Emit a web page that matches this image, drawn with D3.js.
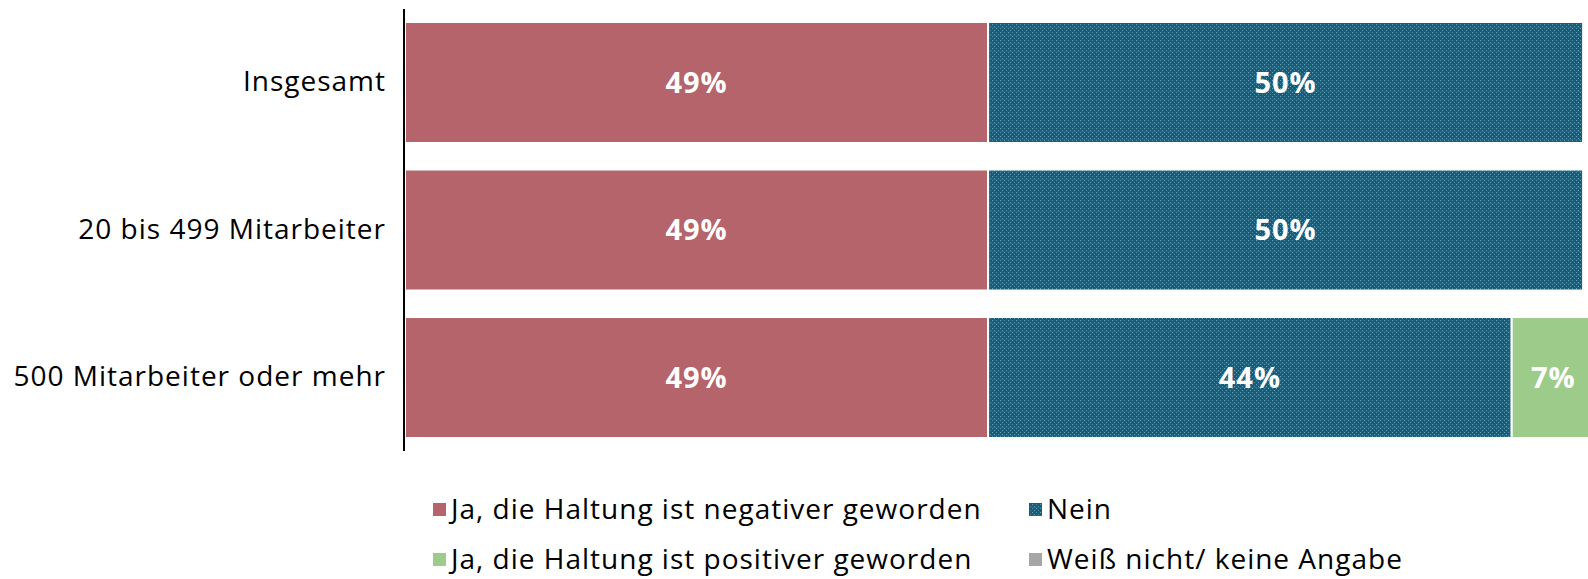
<!DOCTYPE html>
<html><head><meta charset="utf-8">
<script src="https://cdn.jsdelivr.net/npm/d3@7"></script>
<style>body{margin:0;background:#fff}svg{display:block}text{font-family:"Open Sans",sans-serif}</style>
</head><body><svg id="c" width="1588" height="579"></svg>
<script>
const categories = ["Insgesamt", "20 bis 499 Mitarbeiter", "500 Mitarbeiter oder mehr"];
const seriesNames = ["Ja, die Haltung ist negativer geworden", "Nein", "Ja, die Haltung ist positiver geworden", "Weiß nicht/ keine Angabe"];
const negativ = [49, 49, 49];
const nein = [50, 50, 44];
const positiv = [0, 0, 7];
const weissNicht = [0, 0, 0];
const colors = ["#b5646b", "url(#nein)", "#9dcb8a", "#a6a6a6"];

const svg = d3.select("#c");
const defs = svg.append("defs");
const pat = defs.append("pattern").attr("id","nein").attr("patternUnits","userSpaceOnUse").attr("width",8).attr("height",8);
pat.append("rect").attr("width",8).attr("height",8).attr("fill","#175c78");
[[0,0],[4,0],[2,2],[0,4],[4,4],[6,6],[2,6],[6,2]].forEach(([x,y],i)=>{
  pat.append("rect").attr("x",x).attr("y",y).attr("width",1).attr("height",1).attr("fill", i%2? "#4d8ea6":"#6fa6bb");
});
pat.append("rect").attr("x",0).attr("y",3).attr("width",8).attr("height",1).attr("fill","#2a7090").attr("opacity",0.6);

const x = d3.scaleLinear().domain([0,100]).range([405, 1595]);
const y = d3.scaleBand().domain(categories).range([22, 438]).paddingInner(0.18).paddingOuter(0);

const data = [negativ, nein, positiv, weissNicht];
const stacked = d3.stack().keys([0,1,2,3]).value((d,k)=>data[k][d])(categories.map((c,i)=>i));

stacked.forEach((layer,k)=>{
  const g = svg.append("g");
  layer.forEach((seg,i)=>{
    if (seg[1]-seg[0] <= 0) return;
    g.append("rect").attr("x", x(seg[0])).attr("y", y(categories[i]))
      .attr("width", x(seg[1])-x(seg[0])).attr("height", y.bandwidth())
      .attr("fill", colors[k]).attr("stroke","#fff").attr("stroke-width",2);
    g.append("text").attr("x", (x(seg[0])+x(seg[1]))/2)
      .attr("y", y(categories[i]) + y.bandwidth()/2).attr("dy","0.36em")
      .attr("text-anchor","middle").attr("fill","#fff").attr("font-weight","bold").attr("font-size",29)
      .attr("letter-spacing",1)
      .text((seg[1]-seg[0])+"%");
  });
});

const yAxis = svg.append("g").attr("transform","translate(400,0)").call(d3.axisLeft(y).tickSize(0).tickPadding(14));
yAxis.select(".domain").remove();
yAxis.selectAll("text").attr("font-size",28).attr("fill","#000").attr("letter-spacing",1).style("font-family","'Open Sans',sans-serif");
svg.append("line").attr("x1",404).attr("x2",404).attr("y1",9).attr("y2",451).attr("stroke","#000").attr("stroke-width",2);

const legPos = [[433,509],[1029,509],[433,559],[1029,559]];
const legColors = ["#b5646b","url(#nein)","#9dcb8a","#a6a6a6"];
seriesNames.forEach((n,i)=>{
  const [lx,ly] = legPos[i];
  svg.append("rect").attr("x",lx).attr("y",ly-6).attr("width",13).attr("height",13).attr("fill",legColors[i]);
  svg.append("text").attr("x",lx+18).attr("y",ly).attr("dy","0.36em").attr("font-size",28).attr("letter-spacing",1).attr("fill","#000").text(n);
});
</script></body></html>
